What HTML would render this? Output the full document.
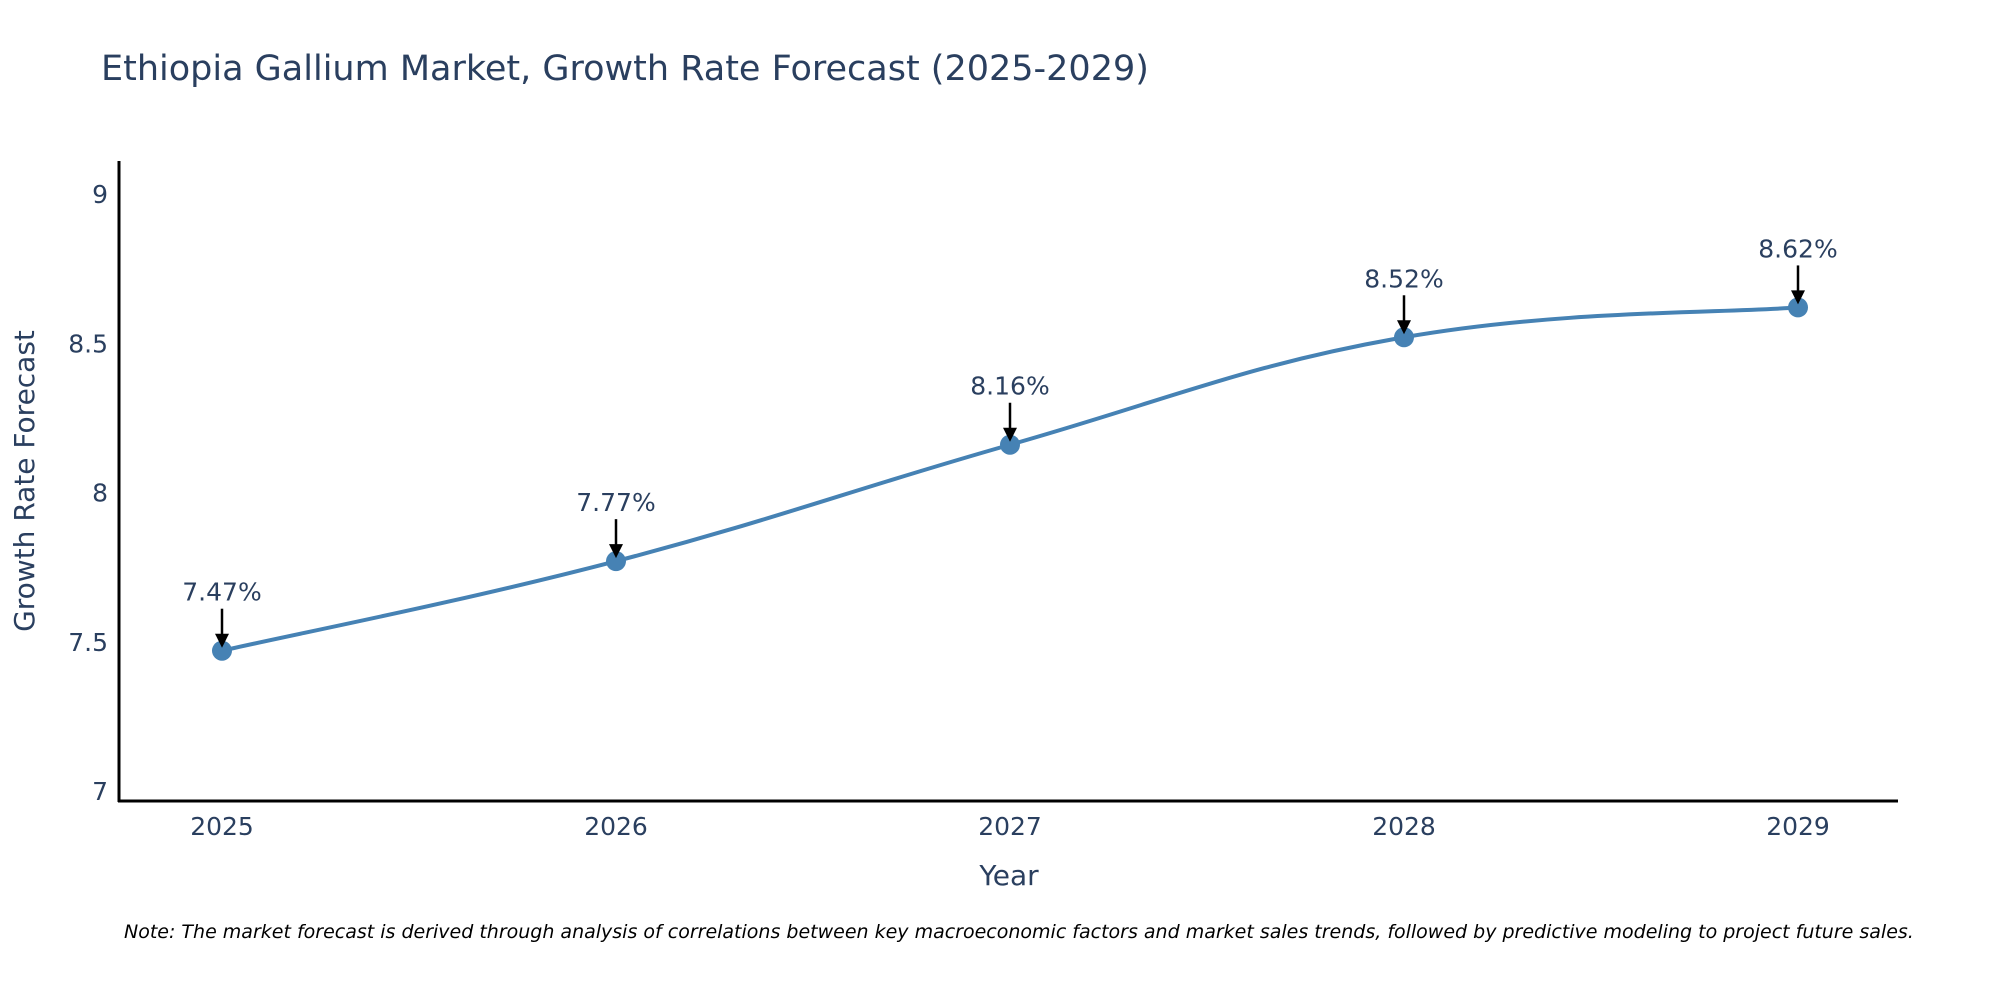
<!DOCTYPE html>
<html><head><meta charset="utf-8"><style>
body{margin:0;background:#fff;}
svg text{font-family:"DejaVu Sans","Liberation Sans",sans-serif;}
</style></head><body>
<svg id="chart" width="2000" height="1000" viewBox="0 0 2000 1000" xmlns="http://www.w3.org/2000/svg">
<rect width="2000" height="1000" fill="#fff"/>
<text x="101" y="80" font-size="35" fill="#2a3f5f">Ethiopia Gallium Market, Growth Rate Forecast (2025-2029)</text>
<g id="plot"></g>
<text transform="translate(34,481) rotate(-90)" text-anchor="middle" font-size="28" fill="#2a3f5f">Growth Rate Forecast</text>
<text x="1009" y="885" text-anchor="middle" font-size="28" fill="#2a3f5f">Year</text>
<text x="124" y="938" font-size="19" font-style="italic" fill="#000">Note: The market forecast is derived through analysis of correlations between key macroeconomic factors and market sales trends, followed by predictive modeling to project future sales.</text>
</svg>
<script>
const years = [2025, 2026, 2027, 2028, 2029];
const values = [7.47, 7.77, 8.16, 8.52, 8.62];
const yTicks = [7, 7.5, 8, 8.5, 9];
const yTickLabels = ["7", "7.5", "8", "8.5", "9"];

const NS = "http://www.w3.org/2000/svg";
const g = document.getElementById("plot");
const X0 = 222, X1 = 1798, Y7 = 791, Y9 = 194;
const xs = y => X0 + (y - years[0]) / (years[years.length-1] - years[0]) * (X1 - X0);
const ys = v => Y7 - (v - 7) / 2 * (Y7 - Y9);
function mk(tag, attrs, parent){ const e=document.createElementNS(NS,tag); for(const k in attrs) e.setAttribute(k,attrs[k]); (parent||g).appendChild(e); return e; }

yTicks.forEach((t,i)=>{
  const e = mk("text",{x:108,y:ys(t)+9,"text-anchor":"end","font-size":"25",fill:"#2a3f5f"});
  
  
  e.textContent = yTickLabels[i];
});
years.forEach(y=>{
  const e = mk("text",{x:xs(y),y:835,"text-anchor":"middle","font-size":"25",fill:"#2a3f5f"});
  
  
  e.textContent = y;
});
const ya = mk("line",{x1:119,y1:161,x2:119,y2:802,stroke:"#000","stroke-width":3});


const xa = mk("line",{x1:118,y1:801,x2:1898,y2:801,stroke:"#000","stroke-width":3});



const pts = years.map((y,i)=>[xs(y), ys(values[i])]);
let d = `M${pts[0][0]},${pts[0][1]}`;
const s = 0.2;
for(let i=0;i<pts.length-1;i++){
  const p0=pts[Math.max(0,i-1)], p1=pts[i], p2=pts[i+1], p3=pts[Math.min(pts.length-1,i+2)];
  const c1=[p1[0]+(p2[0]-p0[0])*s, p1[1]+(p2[1]-p0[1])*s];
  const c2=[p2[0]-(p3[0]-p1[0])*s, p2[1]-(p3[1]-p1[1])*s];
  d += ` C${c1[0]},${c1[1]} ${c2[0]},${c2[1]} ${p2[0]},${p2[1]}`;
}
const line = mk("path",{d:d,fill:"none",stroke:"#4682b4","stroke-width":4});



pts.forEach((p,i)=>{
  const c = mk("circle",{cx:p[0],cy:p[1],r:10,fill:"#4682b4"});
  
  
  const a = mk("line",{x1:p[0],y1:p[1]-42,x2:p[0],y2:p[1]-16,stroke:"#000","stroke-width":2.5});
  
  
  const h = mk("polygon",{points:`${p[0]-7},${p[1]-17} ${p[0]+7},${p[1]-17} ${p[0]},${p[1]-3}`,fill:"#000"});
  
  
  const t = mk("text",{x:p[0],y:p[1]-50,"text-anchor":"middle","font-size":"25",fill:"#2a3f5f"});
  
  
  t.textContent = values[i].toFixed(2)+"%";
});
</script>
</body></html>
